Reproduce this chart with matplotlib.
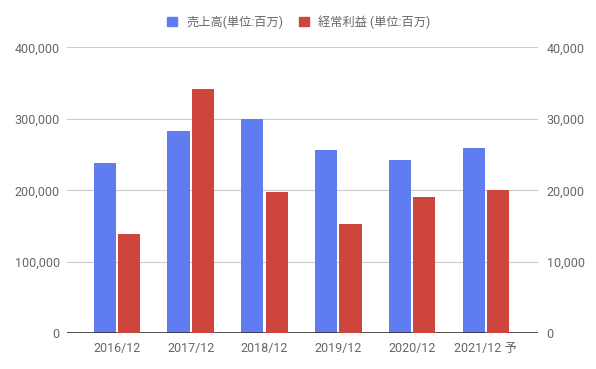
import matplotlib
matplotlib.use('Agg')

import matplotlib.pyplot as plt
import numpy as np
from matplotlib.patches import Patch

plt.rcParams['font.family'] = ['Roboto', 'Noto Sans CJK JP', 'DejaVu Sans']

# データ
periods = ["2016/12", "2017/12", "2018/12", "2019/12", "2020/12", "2021/12 予"]
sales = [238800, 282300, 300300, 257000, 243000, 259500]        # 売上高 (左軸)
profit = [13900, 34200, 19800, 15300, 19100, 20000]             # 経常利益 (右軸)
left_ticks = [0, 100000, 200000, 300000, 400000]
right_ticks = [0, 10000, 20000, 30000, 40000]

BLUE = "#5F7CF1"
RED = "#CD453C"
GRAY = "#666666"

fig = plt.figure(figsize=(5.96, 3.69), dpi=100)
ax = fig.add_axes([0.1119, 0.0968, 0.7913, 0.775])
ax2 = ax.twinx()

x = np.arange(len(periods))
width = 0.30
offset = 0.165

ax.bar(x - offset, sales, width, color=BLUE, zorder=3)
ax2.bar(x + offset, profit, width, color=RED, zorder=3)

ax.set_xlim(-0.68, len(periods) - 1 + 0.71)
ax.set_ylim(0, 400000)
ax2.set_ylim(0, 40000)

ax.set_yticks(left_ticks)
ax.set_yticklabels([f"{v:,}" for v in left_ticks])
ax2.set_yticks(right_ticks)
ax2.set_yticklabels([f"{v:,}" for v in right_ticks])
ax.set_xticks(x)
ax.set_xticklabels(periods)

ax.grid(axis="y", color="#cccccc", linewidth=0.8, zorder=0)
ax.set_axisbelow(True)
ax.axhline(0, color="#333333", linewidth=1.2, zorder=5)

for a in (ax, ax2):
    for side in a.spines.values():
        side.set_visible(False)
    a.tick_params(length=0, labelsize=9, labelcolor=GRAY)
ax.tick_params(axis="y", pad=5)
ax2.tick_params(axis="y", pad=6)
ax.tick_params(axis="x", pad=6)

handles = [Patch(color=BLUE, label="売上高(単位:百万)"),
           Patch(color=RED, label="経常利益 (単位:百万)")]
fig.legend(handles=handles, loc="center", bbox_to_anchor=(0.501, 0.94), ncol=2,
           frameon=False, fontsize=8.8, labelcolor=GRAY,
           handlelength=0.8, handleheight=0.8, handletextpad=0.75, columnspacing=1.3)

plt.savefig("out.png", dpi=100)
plt.close()
